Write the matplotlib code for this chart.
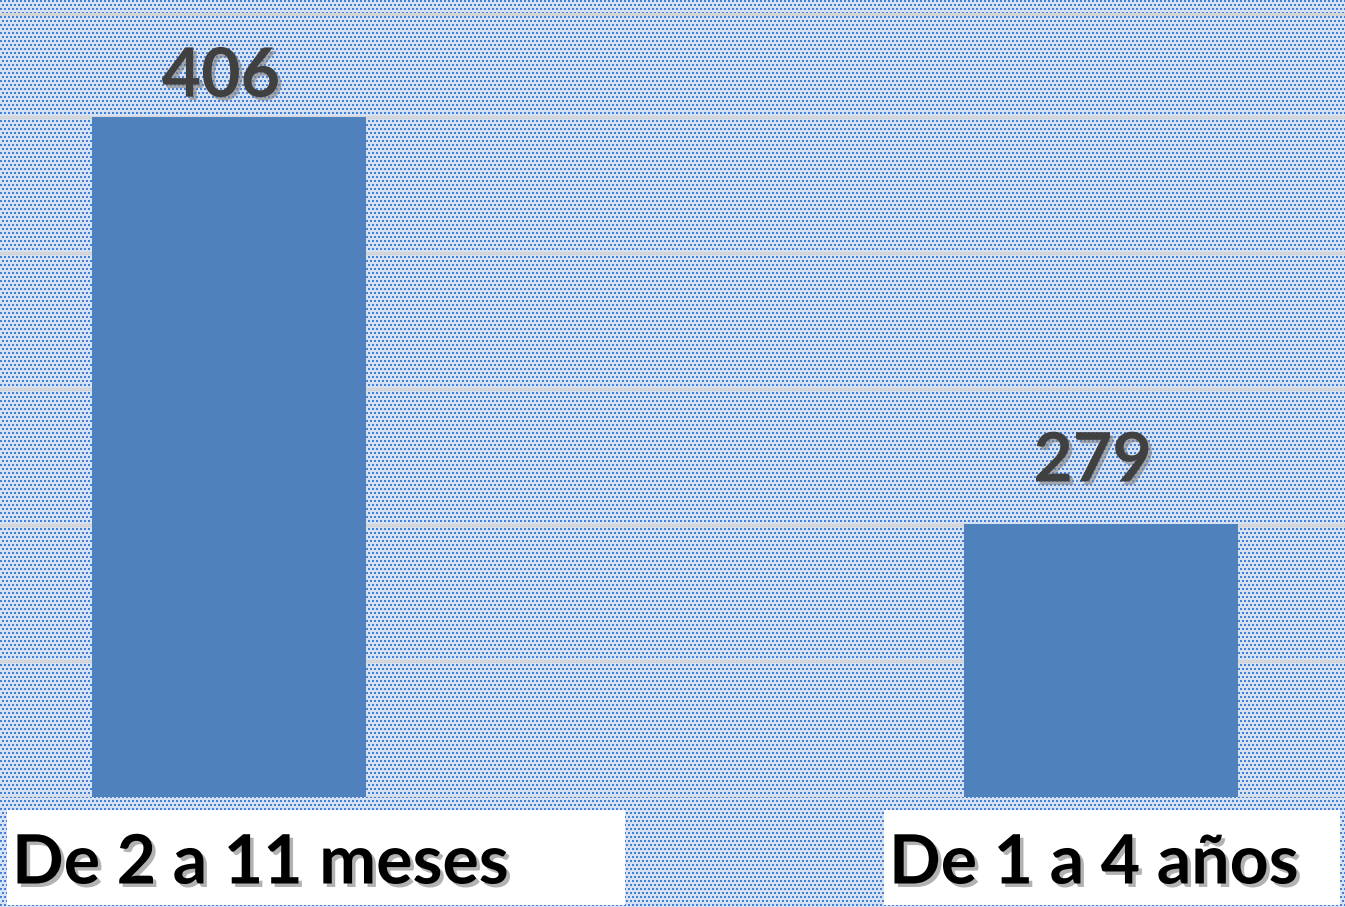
import numpy as np
import matplotlib
matplotlib.use("Agg")
import matplotlib.pyplot as plt
import matplotlib.patheffects as pe
from matplotlib.patches import Rectangle

# --- data ---
categories = ["De 2 a 11 meses", "De 1 a 4 años"]
values = [406, 279]

# --- sizes / style ---
W, H = 1345, 907
dpi = 100
bar_color = "#4f81bd"
label_fz = 49
value_fz = 49
label_dy = [6, 22]   # vertical offset (pt) of each value label

fig = plt.figure(figsize=(W / dpi, H / dpi), dpi=dpi)

# dotted background pattern (Office style fill)
yy, xx = np.mgrid[0:H, 0:W]
ci, cj = xx // 2, yy // 2
dots = (cj % 2 == 0) & ((ci % 2) == ((cj // 2) % 2))
bg = np.empty((H, W, 3))
bg[:] = np.array([214, 226, 243]) / 255
bg[dots] = np.array([66, 128, 216]) / 255
fig.figimage(bg, xo=0, yo=0, origin="upper", zorder=-1)

# axes covering the plot area (baseline at pixel 797)
ax = fig.add_axes([0, (H - 797) / H, 1, 797 / H])
ax.set_facecolor("none")
for s in ax.spines.values():
    s.set_visible(False)

x = np.arange(len(categories))
ax.bar(x, values, width=0.314, color=bar_color, zorder=3)

ax.set_xlim(-0.263, 1.28)
ymin, ymax = 193.8, 442.5
ax.set_ylim(ymin, ymax)
step = (values[0] - ymin) / 5
ax.set_yticks(list(ymin + step * np.arange(6)) + [438.1])
ax.yaxis.grid(True, color="#d4d4d4", linewidth=2.2, zorder=1)
ax.set_axisbelow(True)
ax.tick_params(left=False, bottom=False, labelleft=False, labelbottom=False)

shadow = [pe.SimplePatchShadow(offset=(2.5, -2.5), shadow_rgbFace="#808080", alpha=0.6),
          pe.Normal()]

# value labels
for xi, v, dy in zip(x, values, label_dy):
    ax.annotate(str(v), (xi, v), xytext=(-6, dy), textcoords="offset points",
                ha="center", va="bottom", fontsize=value_fz, fontweight="bold",
                family="Lato", color="#404040", path_effects=shadow)

# category label boxes below the axis
boxes = [(7, 625), (884, 1340)]
for (x0, x1), cat in zip(boxes, categories):
    fig.patches.append(Rectangle((x0 / W, (H - 905) / H), (x1 - x0) / W, 95 / H,
                                 transform=fig.transFigure, facecolor="white",
                                 edgecolor="none", zorder=2))
    fig.text((x0 + 5) / W, (H - 864) / H, cat, ha="left", va="center",
             fontsize=label_fz, fontweight="bold", family="Lato", color="black",
             path_effects=shadow, zorder=3)

plt.savefig("out.png", dpi=dpi)
